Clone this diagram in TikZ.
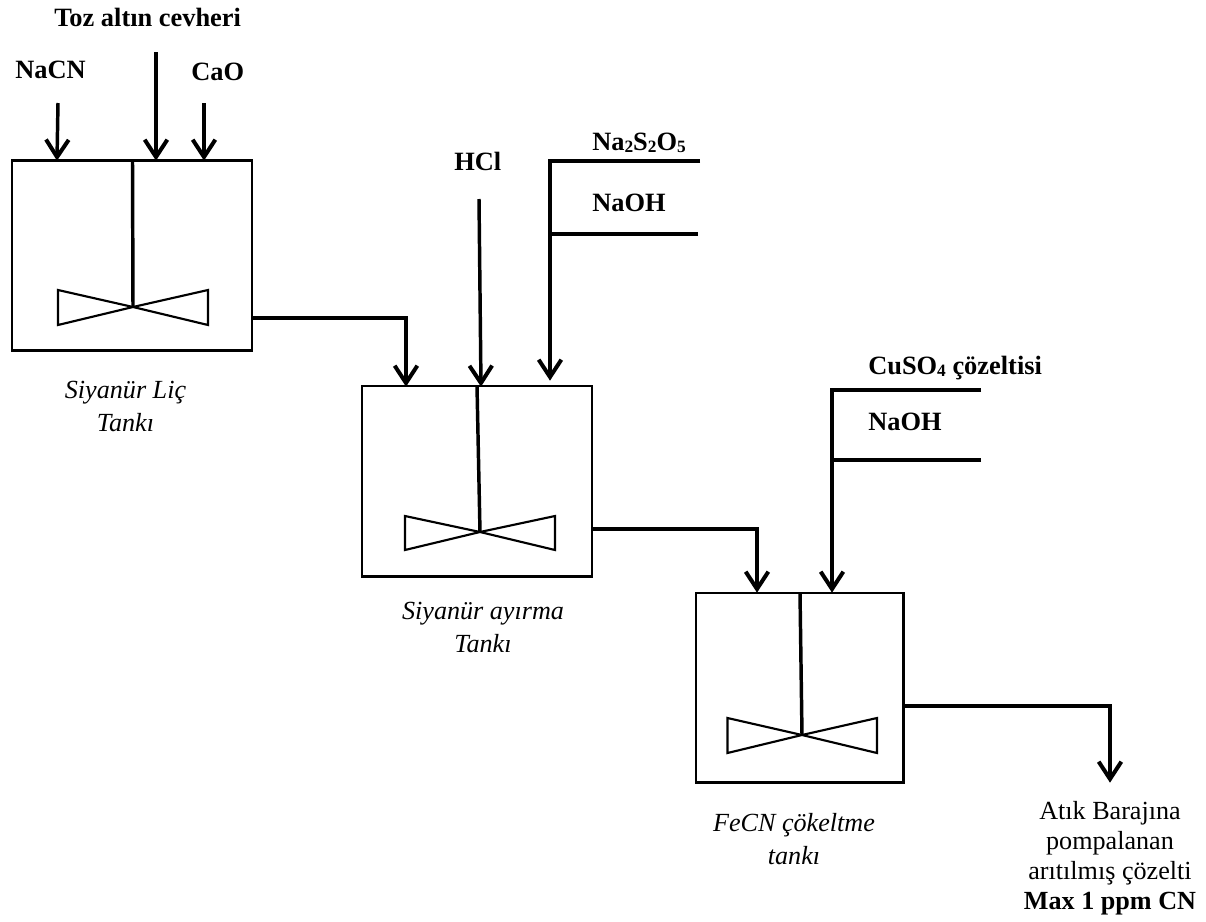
\documentclass[tikz,border=0pt]{standalone}
\usepackage{fontspec}
\setmainfont{Liberation Serif}
\usetikzlibrary{arrows.meta}
\newcommand{\subdig}[1]{\raisebox{-0.18ex}{\fontsize{13pt}{14pt}\selectfont #1}}
\tikzset{
  x=0.75pt,y=-0.75pt,
  tank/.style={draw,line width=2pt,inner sep=0pt,outer sep=0pt,anchor=north west},
  pipe/.style={line width=2.6pt,line join=miter},
  feed/.style={pipe,-{Straight Barb[length=13pt,width=17pt,line width=3pt]},shorten >=-0.5pt},
  shaft/.style={line width=2.6pt},
  blade/.style={draw,line width=1.6pt,line join=miter},
  lbl/.style={font=\fontsize{19.8pt}{23pt}\selectfont\bfseries,inner sep=0pt,anchor=base west},
  tankcap/.style={font=\fontsize{19.6pt}{24.3pt}\selectfont\itshape,inner sep=0pt,align=center,anchor=base},
}
\begin{document}
\begin{tikzpicture}
\useasboundingbox (0,0) rectangle (1206,921);
% tanks
\node[tank,minimum width=180pt,minimum height=142.5pt] (t1) at (12,160.5) {};
\node[tank,minimum width=172.5pt,minimum height=143pt] (t2) at (362,386) {};
\node[tank,minimum width=155.5pt,minimum height=142pt] (t3) at (696,593) {};
% agitators
\coordinate (t1top) at (132.5,160.5); \coordinate (i1) at (133,307);
\coordinate (t2top) at (477,386);   \coordinate (i2) at (480,532);
\coordinate (t3top) at (800,593);   \coordinate (i3) at (802,735);
\draw[shaft] (t1top) -- (i1);
\draw[shaft] (t2top) -- (i2);
\draw[shaft] (t3top) -- (i3);
\draw[blade] (i1) -- (58,290) -- (58,325) -- (i1) -- (208,290) -- (208,325) -- cycle;
\draw[blade] (i2) -- (405,516) -- (405,550) -- (i2) -- (555,516) -- (555,550) -- cycle;
\draw[blade] (i3) -- (727.5,718) -- (727.5,753) -- (i3) -- (877,718) -- (877,753) -- cycle;
% labels
\node[lbl] (toz) at (54,26) {Toz altın cevheri};
\node[lbl] (nacn) at (15,78) {NaCN};
\node[lbl] (cao) at (191,80) {CaO};
\node[lbl] (hcl) at (454,170) {HCl};
\node[lbl] (na2) at (592,150) {Na\subdig{2}S\subdig{2}O\subdig{5}};
\node[lbl] (naoh1) at (592,211) {NaOH};
\node[lbl] (cuso) at (868,374) {CuSO\subdig{4} çözeltisi};
\node[lbl] (naoh2) at (868,430) {NaOH};
\node[tankcap] (c1) at (125.5,431) {Siyanür Liç\\Tankı};
\node[tankcap] (c2) at (483,652) {Siyanür ayırma\\Tankı};
\node[tankcap] (c3) at (794,864) {FeCN çökeltme\\tankı};
\node[font=\fontsize{19.6pt}{22.5pt}\selectfont,inner sep=0pt,align=center,anchor=base] (out) at (1110,909) {Atık Barajına\\pompalanan\\arıtılmış çözelti\\\textbf{Max 1 ppm CN}};
% free ends
\coordinate (s1) at (58,103); \coordinate (e1) at (57,160);
\coordinate (s2) at (156,52);   \coordinate (e2) at (156,160);
\coordinate (s3) at (204,103);  \coordinate (e3) at (204,160);
\coordinate (s4) at (479,199);  \coordinate (e4) at (481,386);
\coordinate (a1) at (700,161);  \coordinate (b1) at (550,161);
\coordinate (a2) at (698,234);  \coordinate (b2) at (550,234);
\coordinate (e5) at (550,380);
\coordinate (a3) at (981,390);  \coordinate (b3) at (832,390);
\coordinate (a4) at (981,460);  \coordinate (b4) at (832,460);
\coordinate (e6) at (832,592);
\coordinate (o1b) at (406,318); \coordinate (o1c) at (406,386);
\coordinate (o2b) at (757,529); \coordinate (o2c) at (757,592);
\coordinate (o3b) at (1110,706); \coordinate (o3c) at (1110,782);
% connectors
\draw[feed] (s1) -- (e1);
\draw[feed] (s2) -- (e2);
\draw[feed] (s3) -- (e3);
\draw[feed] (s4) -- (e4);
\draw[feed] (a1) -- (b1) -- (e5);
\draw[pipe] (a2) -- (b2);
\draw[feed] (a3) -- (b3) -- (e6);
\draw[pipe] (a4) -- (b4);
\draw[feed] (o1b-|t1.east) -- (o1b) -- (o1c);
\draw[feed] (o2b-|t2.east) -- (o2b) -- (o2c);
\draw[feed] (o3b-|t3.east) -- (o3b) -- (o3c);
\end{tikzpicture}
\end{document}
